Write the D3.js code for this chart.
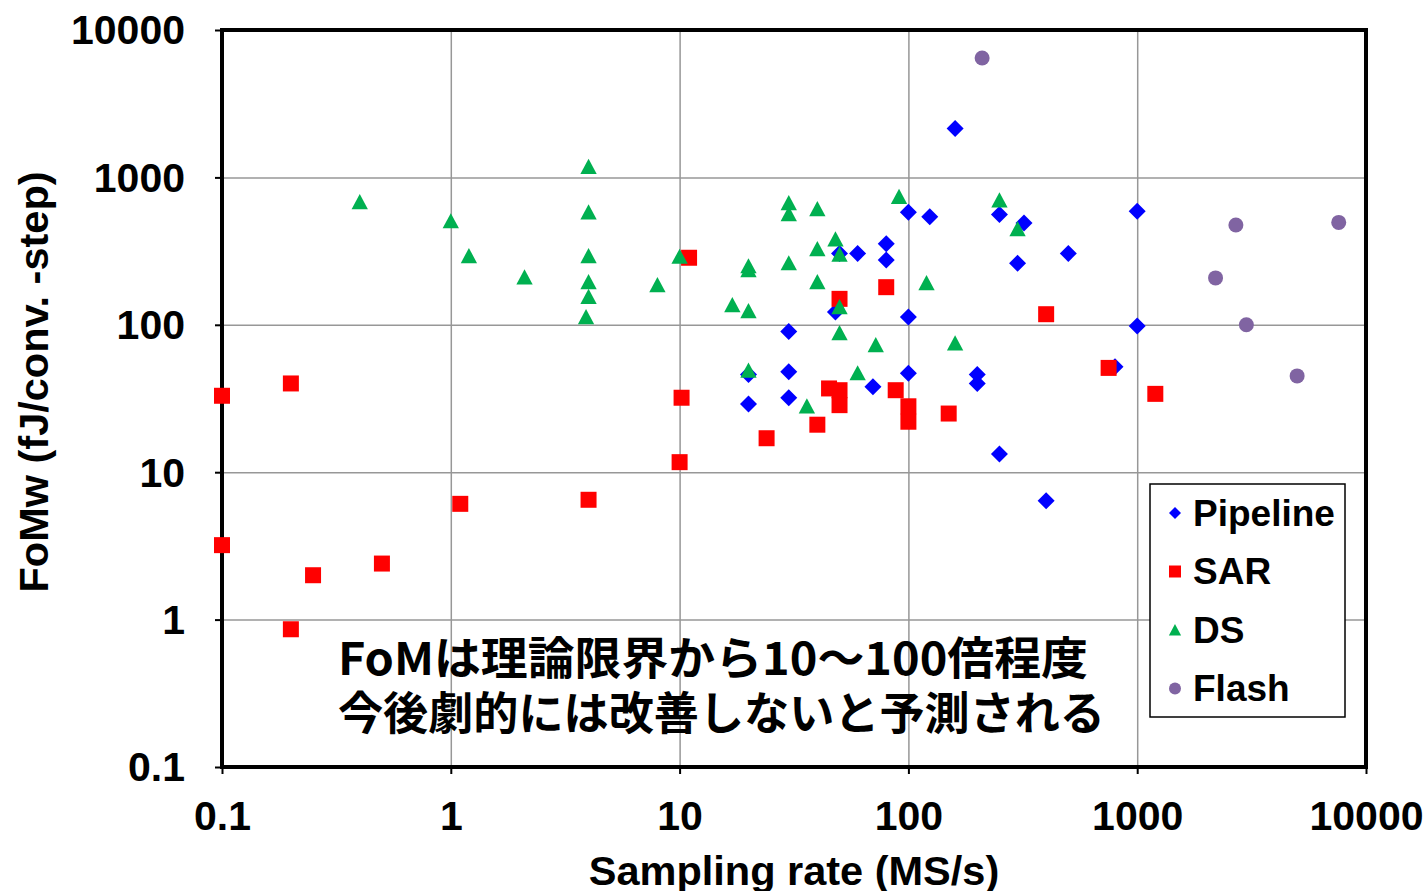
<!DOCTYPE html>
<html>
<head>
<meta charset="utf-8">
<script src="https://cdn.jsdelivr.net/npm/d3@7"></script>
<style>
  html, body { margin: 0; padding: 0; background: #ffffff; }
  svg { display: block; }
</style>
</head>
<body>
<svg id="chart" width="1425" height="891"></svg>
<script>
// Sampling rate (MS/s) and FoMw (fJ/conv.-step) per ADC architecture
const pipelineRate = [160, 100, 124, 250, 320, 500, 300, 1000, 1000, 800, 250, 400, 80, 60, 80, 50, 100, 48, 30, 20, 30, 20, 30, 70, 100, 200, 200];
const pipelineFoM  = [2150, 580, 540, 560, 490, 305, 262, 590, 98, 52, 13.3, 6.4, 355, 305, 275, 305, 113, 122, 90, 46, 48, 29, 32, 38, 47, 46, 40];

const sarRate = [0.1, 0.1, 0.2, 0.2, 0.25, 0.5, 1.1, 4, 10, 10.2, 11, 24, 40, 45, 50, 50, 88, 100, 100, 150, 80, 50, 400, 750, 1200];
const sarFoM  = [33, 3.2, 40, 0.86, 2.0, 2.4, 6.1, 6.5, 11.7, 32, 285, 17, 21, 37, 36, 28.5, 36, 28, 22, 25, 180, 150, 118, 51, 34];

const dsRate = [4, 0.4, 1, 4, 1.2, 2.1, 4, 4, 4, 3.9, 8, 10, 91, 30, 30, 40, 48, 40, 50, 20, 20, 30, 40, 120, 17, 20, 50, 50, 72, 160, 20, 60, 36, 250, 300];
const dsFoM  = [1180, 680, 505, 580, 293, 210, 293, 195, 155, 113, 186, 290, 740, 670, 565, 610, 380, 327, 300, 250, 235, 262, 195, 192, 136, 124, 132, 88, 73, 75, 49, 47, 28, 700, 447];

const flashRate = [210, 2700, 7600, 2200, 3000, 5000];
const flashFoM  = [6450, 475, 495, 208, 100, 45];

const seriesNames  = ["Pipeline", "SAR", "DS", "Flash"];
const seriesColors = ["#0000ff", "#ff0000", "#00b050", "#8064a2"];
const seriesShapes = ["diamond", "square", "triangle", "circle"];

const xTicks = [0.1, 1, 10, 100, 1000, 10000];
const yTicks = [0.1, 1, 10, 100, 1000, 10000];

const xTitle = "Sampling rate (MS/s)";
const yTitle = "FoMw (fJ/conv. -step)";
const noteLines = ["FoMは理論限界から10〜100倍程度", "今後劇的には改善しないと予測される"];

const latin = "'Liberation Sans', Arial, Helvetica, sans-serif";
const cjk = "'Noto Sans CJK JP', 'Noto Sans CJK SC', sans-serif";

const svg = d3.select("#chart");
const plot = { left: 222, right: 1366, top: 30, bottom: 767 };

const x = d3.scaleLog().domain([0.1, 10000]).range([plot.left, plot.right]);
const y = d3.scaleLog().domain([0.1, 10000]).range([plot.bottom, plot.top]);

const fmt = d => (d < 1 ? d3.format(".1f")(d) : d3.format("d")(d));

// grid lines
svg.append("g")
  .attr("transform", `translate(0,${plot.bottom})`)
  .call(d3.axisBottom(x).tickValues(xTicks).tickSize(-(plot.bottom - plot.top)).tickFormat(""))
  .call(g => g.select(".domain").remove())
  .call(g => g.selectAll("line").attr("stroke", "#979797").attr("stroke-width", 1.5));
svg.append("g")
  .attr("transform", `translate(${plot.left},0)`)
  .call(d3.axisLeft(y).tickValues(yTicks).tickSize(-(plot.right - plot.left)).tickFormat(""))
  .call(g => g.select(".domain").remove())
  .call(g => g.selectAll("line").attr("stroke", "#979797").attr("stroke-width", 1.5));

// axes with outward ticks and labels
const xAxis = svg.append("g")
  .attr("transform", `translate(0,${plot.bottom})`)
  .call(d3.axisBottom(x).tickValues(xTicks).tickFormat(fmt).tickSize(7).tickSizeOuter(0).tickPadding(27));
xAxis.select(".domain").remove();
xAxis.selectAll("line").attr("stroke", "#000").attr("stroke-width", 2);
xAxis.selectAll("text")
  .attr("font-family", latin).attr("font-weight", "bold").attr("font-size", 41).attr("fill", "#000")
  .attr("dy", "0.71em");

const yAxis = svg.append("g")
  .attr("transform", `translate(${plot.left},0)`)
  .call(d3.axisLeft(y).tickValues(yTicks).tickFormat(fmt).tickSize(7).tickSizeOuter(0).tickPadding(30));
yAxis.select(".domain").remove();
yAxis.selectAll("line").attr("stroke", "#000").attr("stroke-width", 2);
yAxis.selectAll("text")
  .attr("font-family", latin).attr("font-weight", "bold").attr("font-size", 41).attr("fill", "#000")
  .attr("dy", "0.34em");

// plot frame
svg.append("rect")
  .attr("x", plot.left).attr("y", plot.top)
  .attr("width", plot.right - plot.left).attr("height", plot.bottom - plot.top)
  .attr("fill", "none").attr("stroke", "#000").attr("stroke-width", 4);

// axis titles
svg.append("text")
  .attr("x", 794).attr("y", 870)
  .attr("text-anchor", "middle").attr("dominant-baseline", "central")
  .attr("font-family", latin).attr("font-weight", "bold").attr("font-size", 41.5)
  .text(xTitle);
svg.append("text")
  .attr("transform", "translate(33,382) rotate(-90)")
  .attr("text-anchor", "middle").attr("dominant-baseline", "central")
  .attr("font-family", latin).attr("font-weight", "bold").attr("font-size", 41.5)
  .text(yTitle);

// marker shapes
const symbolFor = {
  diamond: size => {
    const h = size / 2, w = size * 0.5;
    return `M0,${-h}L${w},0L0,${h}L${-w},0Z`;
  },
  square: size => { const h = size / 2; return `M${-h},${-h}H${h}V${h}H${-h}Z`; },
  triangle: size => { const h = size / 2; return `M0,${-h}L${h * 1.02},${h * 0.9}L${-h * 1.02},${h * 0.9}Z`; },
  circle: size => d3.symbol(d3.symbolCircle, Math.PI * (size / 2) * (size / 2))()
};

const seriesData = [
  d3.zip(pipelineRate, pipelineFoM),
  d3.zip(sarRate, sarFoM),
  d3.zip(dsRate, dsFoM),
  d3.zip(flashRate, flashFoM)
];
const markerSize = [17, 16, 16, 15];

const marks = svg.append("g");
seriesData.forEach((pts, i) => {
  marks.append("g")
    .selectAll("path")
    .data(pts)
    .join("path")
    .attr("transform", d => `translate(${x(d[0])},${y(d[1])})`)
    .attr("d", symbolFor[seriesShapes[i]](markerSize[i]))
    .attr("fill", seriesColors[i]);
});

// annotation, one text element per line
const noteWidths = [750, 767];
noteLines.forEach((line, i) => {
  svg.append("text")
    .attr("x", 338).attr("y", 655 + i * 55)
    .attr("dominant-baseline", "central")
    .attr("font-family", cjk).attr("font-weight", "bold").attr("font-size", 45).attr("fill", "#000")
    .attr("textLength", noteWidths[i]).attr("lengthAdjust", "spacingAndGlyphs")
    .text(line);
});

// legend
const legend = svg.append("g").attr("transform", "translate(1150,484)");
legend.append("rect")
  .attr("width", 195).attr("height", 233)
  .attr("fill", "#fff").attr("stroke", "#000").attr("stroke-width", 1.5);
seriesNames.forEach((name, i) => {
  const cy = 29 + i * 58.5;
  legend.append("path")
    .attr("transform", `translate(25,${cy})`)
    .attr("d", symbolFor[seriesShapes[i]](12))
    .attr("fill", seriesColors[i]);
  legend.append("text")
    .attr("x", 43).attr("y", cy)
    .attr("dominant-baseline", "central")
    .attr("font-family", latin).attr("font-weight", "bold").attr("font-size", 37)
    .text(name);
});
</script>
</body>
</html>
